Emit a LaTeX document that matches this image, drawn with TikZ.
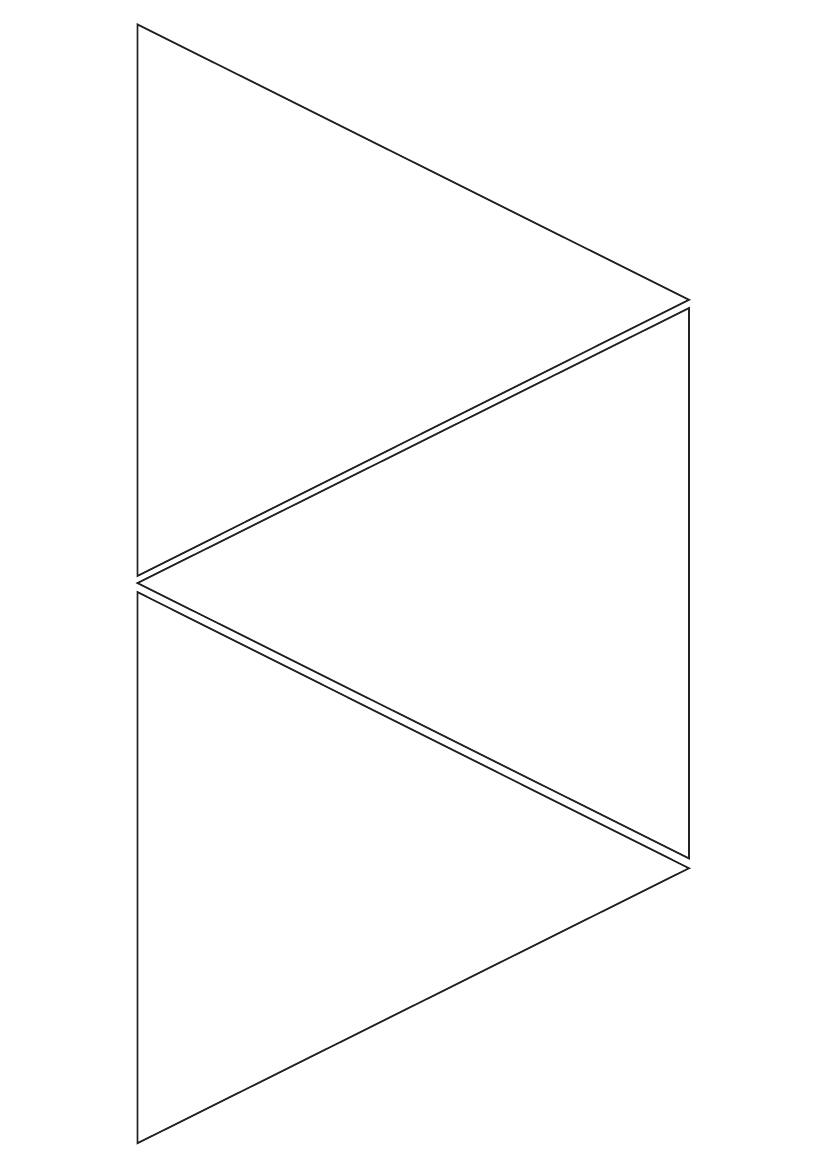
\documentclass[tikz,border=0pt]{standalone}
\usepackage{tikz}
\definecolor{edgegray}{HTML}{222222}
\tikzstyle{tri_edge} = [draw=edgegray, line width=0.45mm, line join=miter]

\begin{document}
\begin{tikzpicture}[x=1mm,y=-1mm]
		\useasboundingbox (0,0) rectangle (210,297);
		\def\xl{34.9}
		\def\xr{174.9}
		\coordinate (A1) at (\xl,6.2);
		\coordinate (B1) at (\xr,76.1);
		\coordinate (C1) at (\xl,146.2);
		\coordinate (A2) at (\xr,78.2);
		\coordinate (B2) at (\xl,148.0);
		\coordinate (C2) at (\xr,217.9);
		\coordinate (A3) at (\xl,150.3);
		\coordinate (B3) at (\xr,220.4);
		\coordinate (C3) at (\xl,290.2);
		
		\draw[tri_edge] (A1)--(B1)--(C1)--cycle;
		\draw[tri_edge] (A2)--(B2)--(C2)--cycle;
		\draw[tri_edge] (A3)--(B3)--(C3)--cycle;
		\end{tikzpicture}
\end{document}
